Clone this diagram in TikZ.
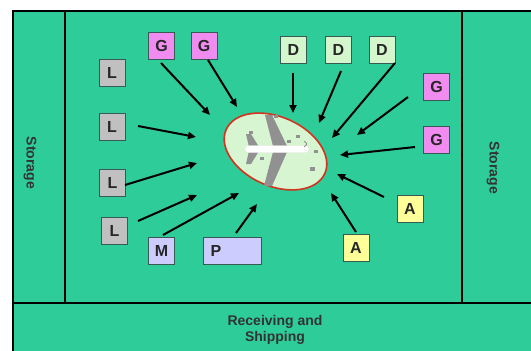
\documentclass[tikz,border=0pt]{standalone}
\usepackage{fontspec}
\setmainfont{Liberation Sans}
\usetikzlibrary{arrows.meta}
\definecolor{floorgreen}{RGB}{46,204,152}
\definecolor{gpink}{RGB}{240,140,240}
\definecolor{lgray}{RGB}{192,192,192}
\definecolor{dgreen}{RGB}{212,246,204}
\definecolor{ayellow}{RGB}{255,255,153}
\definecolor{mlav}{RGB}{204,204,255}
\definecolor{boxedge}{RGB}{55,90,85}
\definecolor{ringred}{RGB}{210,50,30}
\definecolor{padfill}{RGB}{214,245,208}
\definecolor{wing}{RGB}{145,145,145}
\begin{document}
\begin{tikzpicture}[x=1pt,y=-1pt,
  wall/.style={draw=black,line width=2.6pt},
  station/.style={draw=boxedge,line width=0.8pt,minimum width=26pt,minimum height=27pt,
    inner sep=0pt,font=\fontsize{16}{18}\selectfont\bfseries,text=black!85},
  feed/.style={line width=2pt,-{Triangle[length=8pt,width=7pt]}},
  area/.style={font=\fontsize{14}{16}\selectfont\bfseries,text=black!80,align=center},
  speck/.style={fill=wing}]
\useasboundingbox (0,0) rectangle (531,351);
\fill[white] (0,0) rectangle (531,351);
\begin{scope}
\clip (0,0) rectangle (531,351);
% hangar floor and walls
\fill[floorgreen] (13,11) rectangle (545,365);
\draw[wall] (13,11) rectangle (545,365);
\draw[wall] (65,11) -- (65,303);
\draw[wall] (462,11) -- (462,303);
\draw[wall] (13,303) -- (545,303);
\end{scope}

% area labels
\node[area,rotate=-90] (stl) at (30,163) {Storage};
\node[area,rotate=-90] (str) at (493,168) {Storage};
\node[area] (rs) at (275,330) {Receiving and\\Shipping};

% aircraft pad
\draw[ringred,line width=1.6pt,fill=padfill,rotate around={-24:(275.5,151.5)}]
  (275.5,151.5) ellipse [x radius=54, y radius=34.5];
\coordinate (pad) at (275.5,151.5);

% aircraft seen from above
\fill[wing] (265,115) -- (272,115) -- (287,146) -- (273,146) -- cycle;
\fill[wing] (273,152) -- (287,152) -- (272,186) -- (264,186) -- cycle;
\fill[wing] (246,134) -- (251,134) -- (259,147) -- (249,147) -- cycle;
\fill[wing] (249,151) -- (259,151) -- (251,164) -- (246,164) -- cycle;
\draw[white!80!gray,fill=white,line width=0.4pt,rounded corners=3pt] (245,145.5) rectangle (309,152.5);
\draw[gray!80!black,line width=0.6pt] (304,146.5) arc[start angle=90,end angle=-90,radius=2.5];

% parts and tooling on the pad
\fill[speck] (249,131) rectangle (253,134);
\fill[speck] (274,115) rectangle (278,118);
\fill[speck] (287,140) rectangle (291,143);
\fill[speck] (296,135) rectangle (300,138);
\fill[speck] (314,150) rectangle (318,153);
\fill[speck] (260,157) rectangle (264,160);
\fill[speck] (310,167) rectangle (315,171);

% work stations
\node[station,fill=gpink] (g1) at (161.5,45.5) {G};
\node[station,fill=gpink] (g2) at (204,45.5) {G};
\node[station,fill=lgray] (l1) at (112,73) {L};
\node[station,fill=lgray] (l2) at (112,127) {L};
\node[station,fill=lgray] (l3) at (112.5,182.5) {L};
\node[station,fill=lgray] (l4) at (114.5,230.5) {L};
\node[station,fill=mlav] (m) at (161.5,250.5) {M};
\node[station,fill=mlav,minimum width=58pt,text width=43pt,align=left] (p) at (232,250.5) {P};
\node[station,fill=dgreen] (d1) at (293.5,49.5) {D};
\node[station,fill=dgreen] (d2) at (338.5,49.5) {D};
\node[station,fill=dgreen] (d3) at (382,49.5) {D};
\node[station,fill=gpink] (g3) at (436.5,86.5) {G};
\node[station,fill=gpink] (g4) at (436.5,139.5) {G};
\node[station,fill=ayellow] (a1) at (410,208.5) {A};
\node[station,fill=ayellow] (a2) at (356,247.5) {A};

% arrow ends
\coordinate (g1s) at (161,63);   \coordinate (g1e) at (210,115);
\coordinate (g2s) at (208,60);   \coordinate (g2e) at (237,107);
\coordinate (d1s) at (293,73);   \coordinate (d1e) at (293,113);
\coordinate (d2s) at (341,71);   \coordinate (d2e) at (319,123);
\coordinate (d3s) at (395,63);   \coordinate (d3e) at (332,138);
\coordinate (g3s) at (408,97);   \coordinate (g3e) at (357,135);
\coordinate (g4s) at (415,147);  \coordinate (g4e) at (340,155);
\coordinate (a1s) at (384,197);  \coordinate (a1e) at (337,174);
\coordinate (a2s) at (356,232);  \coordinate (a2e) at (331,193);
\coordinate (l2s) at (138,126);  \coordinate (l2e) at (196,137);
\coordinate (l3s) at (125,185);  \coordinate (l3e) at (197,163);
\coordinate (l4s) at (138,221);  \coordinate (l4e) at (197,195);
\coordinate (ms) at (163,235);   \coordinate (me) at (239,193);
\coordinate (ps) at (236,233);   \coordinate (pe) at (257,204);

% material flows towards the aircraft
\foreach \s in {g1,g2,d1,d2,d3,g3,g4,a1,a2,l2,l3,l4,m,p}
  \draw[feed] (\s s) -- (\s e);
\end{tikzpicture}
\end{document}
